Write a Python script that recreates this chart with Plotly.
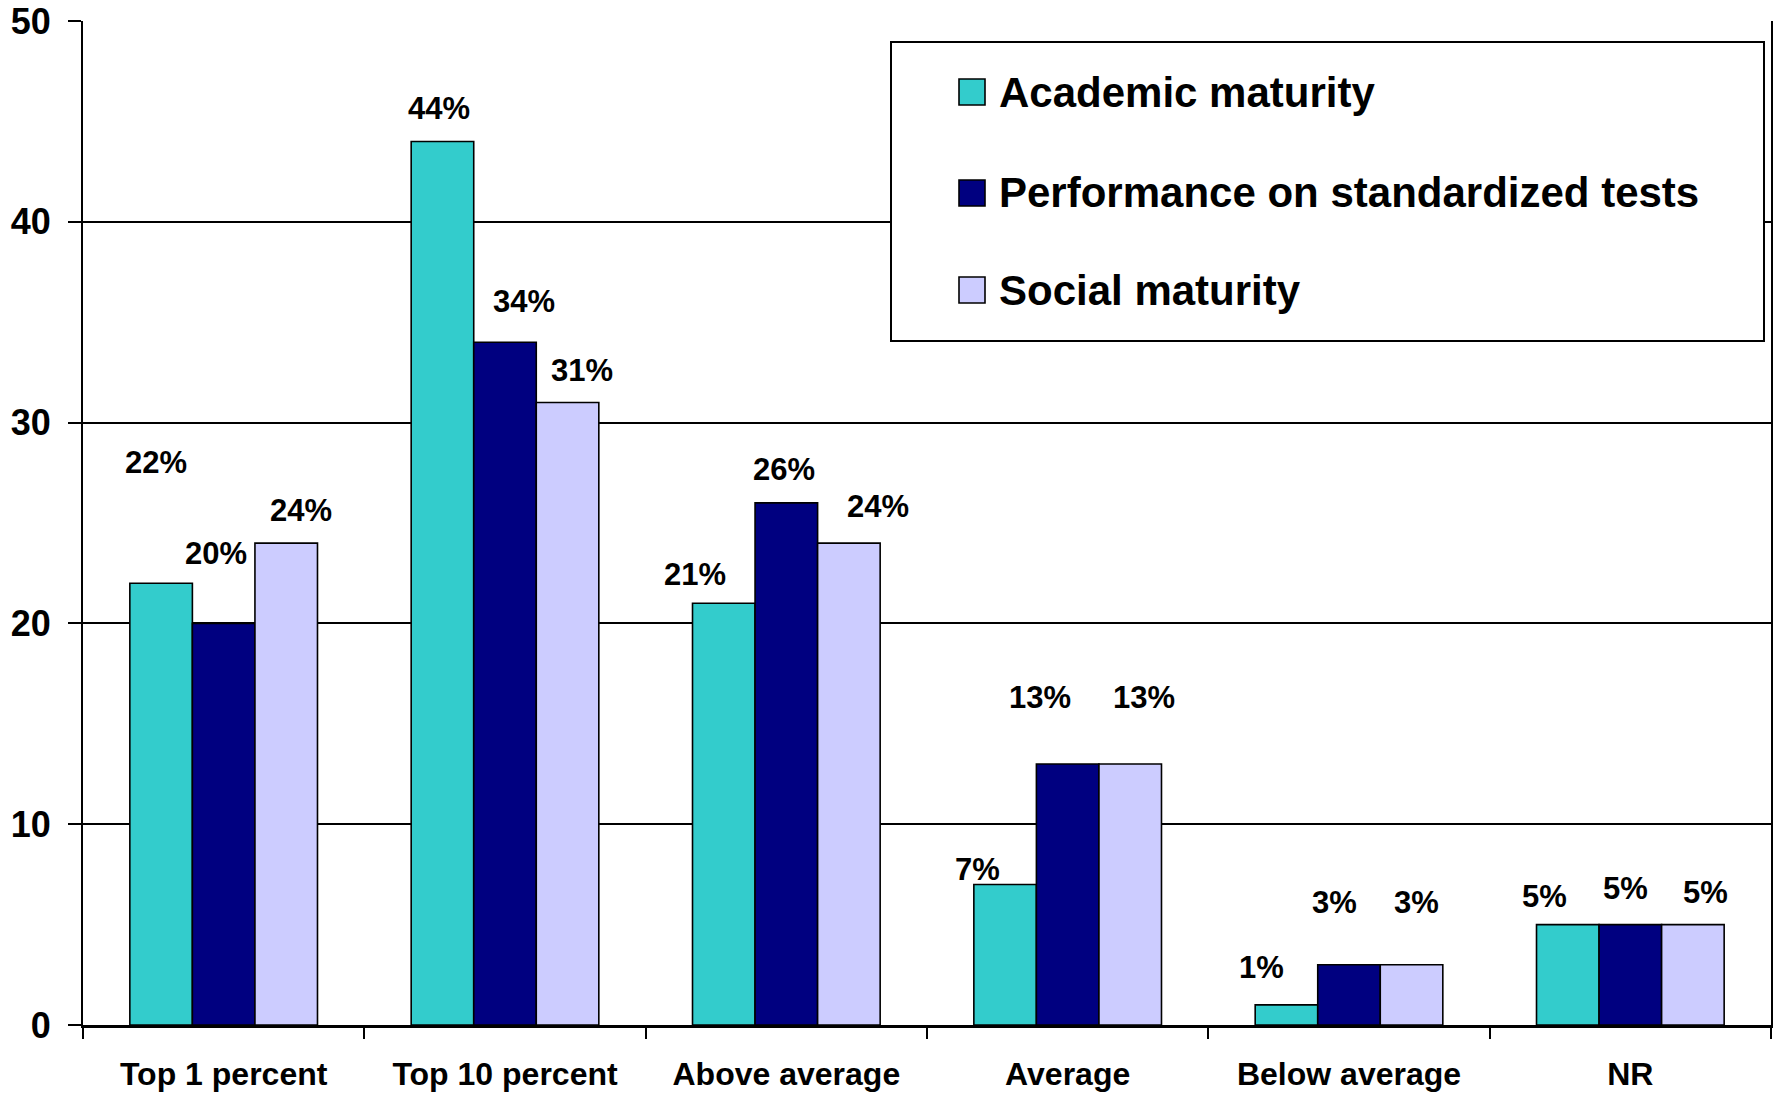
import plotly.graph_objects as go

# --- data -------------------------------------------------------------
categories = ["Top 1 percent", "Top 10 percent", "Above average",
              "Average", "Below average", "NR"]
series_names = ["Academic maturity",
                "Performance on standardized tests",
                "Social maturity"]
academic = [22, 44, 21, 7, 1, 5]
performance = [20, 34, 26, 13, 3, 5]
social = [24, 31, 24, 13, 3, 5]
y_ticks = [0, 10, 20, 30, 40, 50]

series_values = [academic, performance, social]
colors = ["#33CCCC", "#000080", "#CCCCFF"]

# label nudges in pixels: (dx from bar centre, height above bar top)
label_nudge = [
    [(-5, 121), (-3, 33), (-29, 29), (-28, 15), (-25, 37), (-23, 28)],
    [(-8, 70), (19, 41), (-2, 33), (-28, 66), (-15, 62), (-5, 36)],
    [(15, 33), (14, 32), (29, 37), (14, 66), (5, 62), (13, 32)],
]

# --- geometry ---------------------------------------------------------
W, H = 1776, 1093
ML, MR, MT, MB = 83, 5, 21, 68
PW, PH = W - ML - MR, H - MT - MB
BARGAP = 0.333
FONT = "Liberation Sans, Arial, sans-serif"


def px_x(px):
    return (px - ML) / PW


def px_y(py):
    return (H - MB - py) / PH


fig = go.Figure()
for name, vals, col in zip(series_names, series_values, colors):
    fig.add_trace(go.Bar(
        x=categories, y=vals, name=name,
        marker=dict(color=col, line=dict(color="black", width=1.6)),
        showlegend=False, hoverinfo="x+y+name",
    ))

# value labels
bar_w = (1 - BARGAP) / len(series_values)
annotations = []
for j, vals in enumerate(series_values):
    for k, v in enumerate(vals):
        dx, dy = label_nudge[j][k]
        annotations.append(dict(
            x=k + (j - 1) * bar_w, y=v, xref="x", yref="y",
            text=f"{v}%", showarrow=False,
            xshift=dx, yshift=dy, yanchor="middle", xanchor="center",
            font=dict(family=FONT, size=31, color="black", weight="bold"),
        ))

# legend box drawn by hand
shapes = [dict(
    type="rect", xref="paper", yref="paper", layer="above",
    x0=px_x(891), x1=px_x(1764), y0=px_y(341), y1=px_y(42),
    line=dict(color="black", width=2), fillcolor="white",
)]
legend_rows = [92, 193, 290]
for name, col, cy in zip(series_names, colors, legend_rows):
    shapes.append(dict(
        type="rect", xref="paper", yref="paper", layer="above",
        x0=px_x(959), x1=px_x(985), y0=px_y(cy + 13), y1=px_y(cy - 13),
        line=dict(color="black", width=1.6), fillcolor=col,
    ))
    annotations.append(dict(
        x=px_x(997), y=px_y(cy), xref="paper", yref="paper",
        text=name, showarrow=False, xanchor="left", yanchor="middle",
        font=dict(family=FONT, size=42, color="black", weight="bold"),
    ))

fig.update_layout(
    width=W, height=H,
    margin=dict(l=ML, r=MR, t=MT, b=MB, pad=0, autoexpand=False),
    paper_bgcolor="white", plot_bgcolor="white",
    barmode="group", bargap=BARGAP, bargroupgap=0,
    annotations=annotations, shapes=shapes,
    showlegend=False,
)
fig.update_xaxes(
    type="category", showgrid=False, automargin=False,
    showline=True, linecolor="black", linewidth=2.5, mirror=False,
    ticks="outside", tickson="boundaries", ticklen=11, tickwidth=2,
    tickcolor="black", ticklabelstandoff=19,
    tickfont=dict(family=FONT, size=32, color="black", weight="bold"),
)
fig.update_yaxes(
    range=[0, 50], tickvals=y_ticks, automargin=False,
    showgrid=True, gridcolor="black", gridwidth=1.6, zeroline=False,
    showline=True, linecolor="black", linewidth=2, mirror=True,
    ticks="outside", ticklen=13, tickwidth=2, tickcolor="black",
    ticklabelstandoff=10,
    tickfont=dict(family=FONT, size=36, color="black", weight="bold"),
)

fig.write_html("out.html")
